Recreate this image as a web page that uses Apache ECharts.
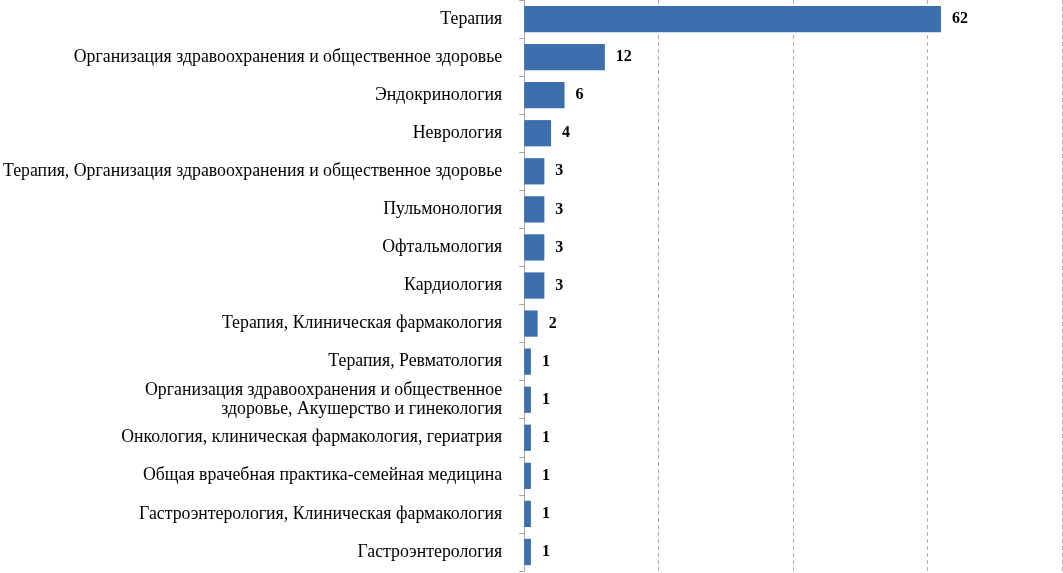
<!DOCTYPE html>
<html>
<head>
<meta charset="utf-8">
<script src="https://cdn.jsdelivr.net/npm/echarts@6/dist/echarts.min.js"></script>
<style>html,body{margin:0;padding:0;background:#fff;}#c{width:1063px;height:573px;}</style>
</head>
<body>
<div id="c"></div>
<script>
const categories = [
  "Терапия",
  "Организация здравоохранения и общественное здоровье",
  "Эндокринология",
  "Неврология",
  "Терапия, Организация здравоохранения и общественное здоровье",
  "Пульмонология",
  "Офтальмология",
  "Кардиология",
  "Терапия, Клиническая фармакология",
  "Терапия, Ревматология",
  "Организация здравоохранения и общественное\nздоровье, Акушерство и гинекология",
  "Онкология, клиническая фармакология, гериатрия",
  "Общая врачебная практика-семейная медицина",
  "Гастроэнтерология, Клиническая фармакология",
  "Гастроэнтерология"
];
const values = [62, 12, 6, 4, 3, 3, 3, 3, 2, 1, 1, 1, 1, 1, 1];

const chart = echarts.init(document.getElementById('c'));
chart.setOption({
  animation: false,
  grid: { left: 524, right: 1, top: 0, bottom: 2, containLabel: false },
  xAxis: {
    type: 'value', min: 0, max: 80, interval: 20,
    axisLabel: { show: false },
    axisLine: { show: false },
    axisTick: { show: false },
    splitLine: { show: true, lineStyle: { color: '#B0B0B0', type: [4, 3], width: 1 } }
  },
  yAxis: {
    type: 'category', data: categories, inverse: true,
    axisLine: { show: true, lineStyle: { color: '#A6A6A6', width: 1 } },
    axisTick: { show: true, length: 5, lineStyle: { color: '#A6A6A6' } },
    axisLabel: {
      margin: 22, color: '#000', fontFamily: 'Liberation Serif', fontSize: 17.8,
      lineHeight: 19, align: 'right'
    }
  },
  series: [{
    type: 'bar', data: values, barCategoryGap: '31%',
    itemStyle: { color: '#3D6FAD' },
    label: {
      show: true, position: 'right', distance: 11, color: '#000',
      fontFamily: 'Liberation Serif', fontWeight: 'bold', fontSize: 16
    }
  }]
});
</script>
</body>
</html>
